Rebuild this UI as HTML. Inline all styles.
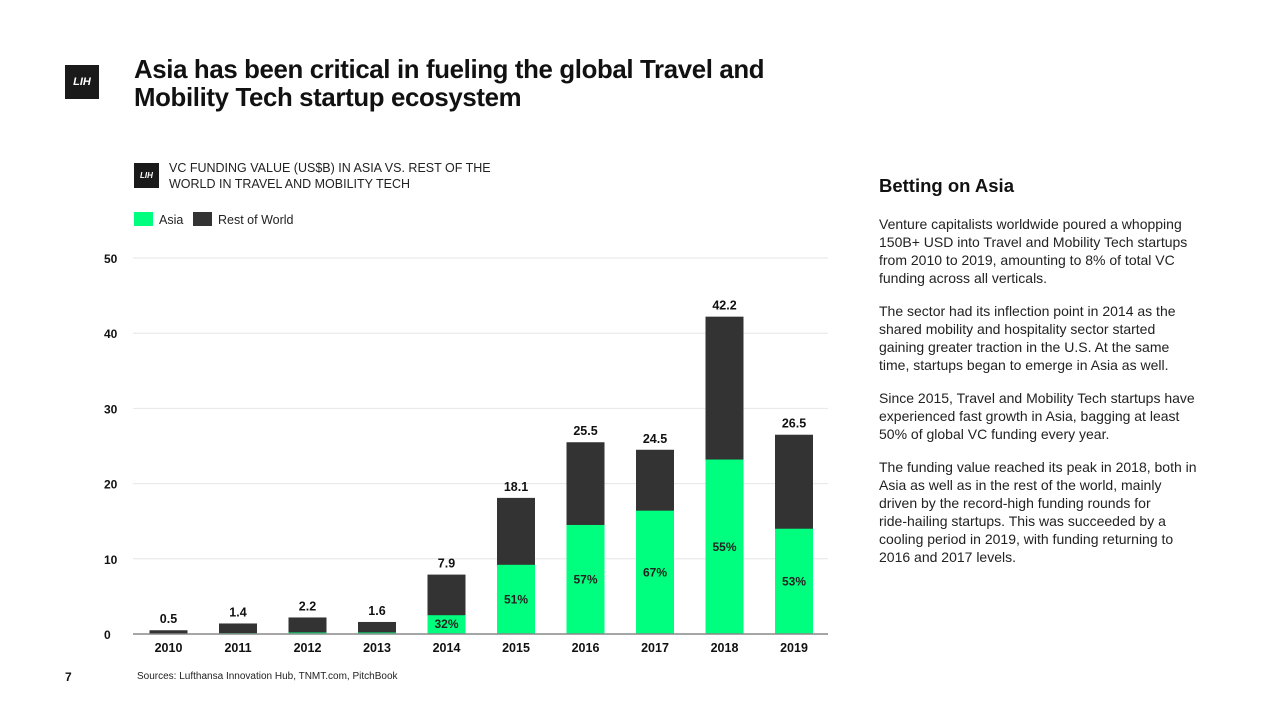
<!DOCTYPE html>
<html><head><meta charset="utf-8"><style>
body{margin:0;width:1280px;height:720px;background:#fff;font-family:"Liberation Sans",sans-serif;position:relative;overflow:hidden;color:#111}
.abs{position:absolute}
.logo{background:#1a1a1a;color:#fff;font-style:italic;font-weight:bold;display:flex;align-items:center;justify-content:center}
h1{position:absolute;left:134px;top:56px;margin:0;font-size:25.8px;line-height:28px;font-weight:bold;letter-spacing:-0.35px}
.side p{margin:0 0 15px 0;font-size:14px;line-height:18px;color:#222;white-space:nowrap}
</style></head><body>
<div class="abs logo" style="left:65px;top:65px;width:34px;height:34px;font-size:11px">LIH</div>
<h1>Asia has been critical in fueling the global Travel and<br>Mobility Tech startup ecosystem</h1>
<div class="abs logo" style="left:134px;top:163px;width:25px;height:25px;font-size:8px">LIH</div>
<div class="abs" style="left:169px;top:160px;font-size:12.5px;line-height:16px;color:#222">VC FUNDING VALUE (US$B) IN ASIA VS. REST OF THE<br>WORLD IN TRAVEL AND MOBILITY TECH</div>
<div class="abs" style="left:134px;top:212px;font-size:12.5px;color:#222"><span style="display:inline-block;width:19px;height:14px;background:#00ff7f;vertical-align:-2px;margin-right:6px"></span>Asia</div>
<div class="abs" style="left:193px;top:212px;font-size:12.5px;color:#222"><span style="display:inline-block;width:19px;height:14px;background:#333;vertical-align:-2px;margin-right:6px"></span>Rest of World</div>
<svg class="abs" style="left:0;top:0" width="1280" height="720" id="chart"></svg>
<div class="abs" style="left:65px;top:670px;font-size:12px;font-weight:bold">7</div>
<div class="abs" style="left:137px;top:671px;font-size:10px;color:#222">Sources: Lufthansa Innovation Hub, TNMT.com, PitchBook</div>
<div class="abs" style="left:879px;top:175px;font-size:18.5px;font-weight:bold">Betting on Asia</div>
<div class="abs side" style="left:879px;top:215px;width:330px">
<p>Venture capitalists worldwide poured a whopping<br>150B+ USD into Travel and Mobility Tech startups<br>from 2010 to 2019, amounting to 8% of total VC<br>funding across all verticals.</p>
<p>The sector had its inflection point in 2014 as the<br>shared mobility and hospitality sector started<br>gaining greater traction in the U.S. At the same<br>time, startups began to emerge in Asia as well.</p>
<p>Since 2015, Travel and Mobility Tech startups have<br>experienced fast growth in Asia, bagging at least<br>50% of global VC funding every year.</p>
<p>The funding value reached its peak in 2018, both in<br>Asia as well as in the rest of the world, mainly<br>driven by the record-high funding rounds for<br>ride-hailing startups. This was succeeded by a<br>cooling period in 2019, with funding returning to<br>2016 and 2017 levels.</p>
</div>
<script>
const years=["2010","2011","2012","2013","2014","2015","2016","2017","2018","2019"];
const totals=[0.5,1.4,2.2,1.6,7.9,18.1,25.5,24.5,42.2,26.5];
const asia=[0,0.1,0.2,0.2,2.5,9.2,14.5,16.4,23.2,14.0];
const pctLabels=["","","","","32%","51%","57%","67%","55%","53%"];
const yTicks=[0,10,20,30,40,50];
const svg=document.getElementById('chart');
const NS='http://www.w3.org/2000/svg';
const y=v=>634-v*7.52;
const xc=i=>168.5+i*69.5;
const bw=38;
function mk(t,a){const e=document.createElementNS(NS,t);for(const k in a)e.setAttribute(k,a[k]);svg.appendChild(e);return e;}
yTicks.forEach(t=>{
 if(t>0){const g=mk('line',{x1:133,x2:828,y1:y(t),y2:y(t),stroke:'#e6e6e6','stroke-width':1});
 
 }
 const l=mk('text',{x:104,y:y(t)+5,'font-size':12,'font-weight':'bold',fill:'#111'});l.textContent=t;
 
 
});
years.forEach((yr,i)=>{
 const x=xc(i)-bw/2;
 const r=mk('rect',{x:x,y:y(totals[i]),width:bw,height:y(0)-y(totals[i]),fill:'#333'});
 
 
 if(asia[i]>0){const a=mk('rect',{x:x,y:y(asia[i]),width:bw,height:y(0)-y(asia[i]),fill:'#00ff7f'});
 
 }
 const t=mk('text',{x:xc(i),y:y(totals[i])-7,'font-size':12.5,'font-weight':'bold','text-anchor':'middle',fill:'#111'});t.textContent=totals[i];
 
 
 if(pctLabels[i]){const p=mk('text',{x:xc(i),y:(i==4?y(asia[i])+13:(y(asia[i])+y(0))/2+4),'font-size':12,'font-weight':'bold','text-anchor':'middle',fill:'#222'});p.textContent=pctLabels[i];
 
 }
 const xl=mk('text',{x:xc(i),y:652,'font-size':12.5,'font-weight':'bold','text-anchor':'middle',fill:'#111'});xl.textContent=yr;
 
 
});
const ax=mk('line',{x1:133,x2:828,y1:634,y2:634,stroke:'#888','stroke-width':1.5});


</script>
</body></html>
